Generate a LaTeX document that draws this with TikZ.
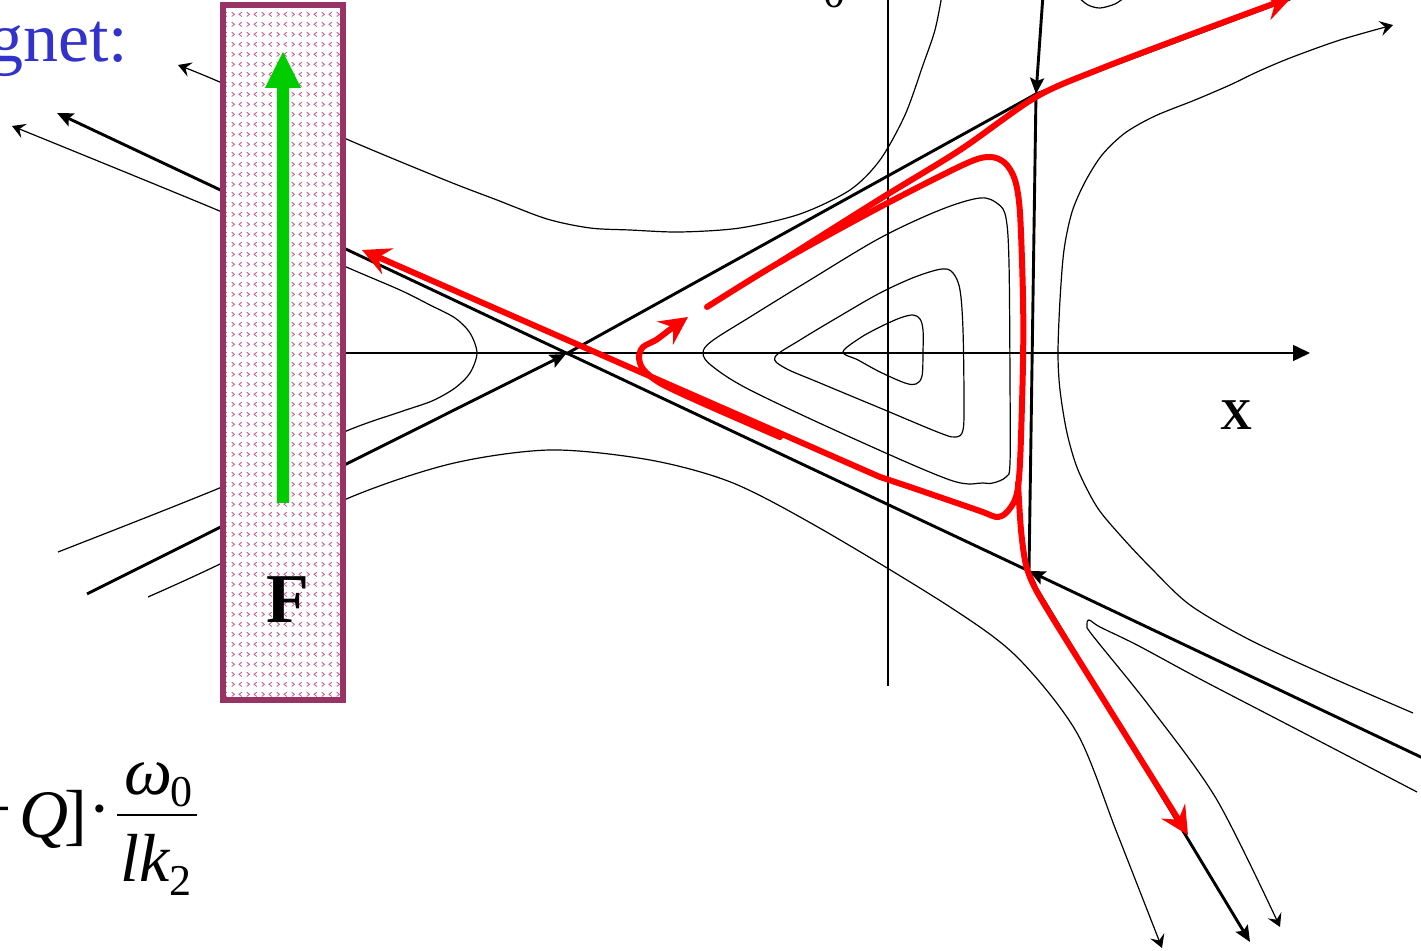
\documentclass[tikz,border=0pt]{standalone}
\usepackage{fontspec}
\setmainfont{Liberation Serif}
\usetikzlibrary{arrows.meta,patterns}
\definecolor{magcol}{RGB}{153,51,102}
\definecolor{patcol}{RGB}{200,95,150}
\definecolor{arrgreen}{RGB}{0,204,0}
\definecolor{txtblue}{RGB}{51,51,204}
\definecolor{redc}{RGB}{255,0,0}
\pgfdeclarepatternformonly{chevrons}{\pgfqpoint{0pt}{0pt}}{\pgfqpoint{7.7pt}{4.85pt}}{\pgfqpoint{7.7pt}{4.85pt}}{%
  \pgfsetlinewidth{0.45pt}%
  \pgfpathmoveto{\pgfqpoint{0.9pt}{3.5pt}}%
  \pgfpathlineto{\pgfqpoint{2.3pt}{2.4pt}}%
  \pgfpathlineto{\pgfqpoint{0.9pt}{1.3pt}}%
  \pgfpathmoveto{\pgfqpoint{6.1pt}{3.5pt}}%
  \pgfpathlineto{\pgfqpoint{4.7pt}{2.4pt}}%
  \pgfpathlineto{\pgfqpoint{6.1pt}{1.3pt}}%
  \pgfusepath{stroke}}
\begin{document}
\begin{tikzpicture}[x=0.5pt,y=-0.5pt,
  fineline/.style={line width=0.6pt},
  sepline/.style={line width=1.45pt},
  axisline/.style={line width=0.75pt},
  redline/.style={draw=redc, line width=3pt, line cap=round, line join=round},
  finetip/.style={-{Stealth[length=6.5pt,width=7.5pt,inset=2.5pt]}},
  septip/.style={-{Stealth[length=8pt,width=7pt,inset=1.5pt]}},
  axistip/.style={-{Triangle[length=8.5pt,width=8pt]}},
  redtip/.style={-{Stealth[length=14pt,width=14pt,inset=5pt]}},
  fml/.style={inner sep=0pt, font=\fontsize{34}{40}\selectfont},
  fmlit/.style={inner sep=0pt, font=\fontsize{34}{40}\selectfont\itshape},
  fsub/.style={inner sep=0pt, font=\fontsize{22}{26}\selectfont},
  orbit/.style={fineline, smooth cycle, tension=0.55},
]
\useasboundingbox (0,0) rectangle (1421,951);
\clip (0,0) rectangle (1421,951);

% key points
\coordinate (Aend) at (87,594);
\coordinate (Sl) at (566,354);
\coordinate (Str) at (1036,94);
\coordinate (Atop) at (1290,-1);
\coordinate (Bl) at (57,113);
\coordinate (Br) at (1425,759);
\coordinate (Sbr) at (1029,571);
\coordinate (Ctop) at (1043,-5);
\coordinate (Cbend) at (1037,589);
\coordinate (Cend) at (1250,942);
\coordinate (Xl) at (344,353);
\coordinate (Xr) at (1310,353);
\coordinate (Yt) at (888,-5);
\coordinate (Yb) at (888,686);

% axes
\draw[axisline, axistip] (Xl) -- (Xr);
\draw[axisline] (Yt) -- (Yb);

% thin phase curves
\draw[fineline, finetip] plot[smooth, tension=0.5] coordinates {(942,-5) (935,30) (923,65) (905,115) (880,160) (850,190) (800,214) (740,228) (680,232) (630,230) (590,228) (547,219) (497,200) (445,180) (344,138) (222,83) (178,65)};
\draw[fineline, finetip] plot[smooth, tension=0.5] coordinates {(58,552) (222,487) (344,432) (400,412) (432,401) (455,388) (470,373) (477,353) (470,333) (455,318) (430,305) (400,290) (344,266) (222,212) (12,126)};
\draw[fineline, finetip] plot[smooth, tension=0.5] coordinates {(148,597) (222,563) (344,500) (450,464) (550,450) (650,460) (733,483) (823,530) (950,607) (1017,657) (1077,733) (1117,833) (1162,948)};
\draw[fineline, finetip] plot[smooth, tension=0.5] coordinates {(1413,713) (1330,677) (1250,640) (1190,605) (1150,567) (1120,535) (1097,507) (1078,470) (1067,433) (1060,390) (1058,353) (1060,300) (1064,250) (1072,212) (1085,182) (1102,155) (1125,133) (1155,116) (1195,100) (1230,85) (1257,72) (1290,58) (1340,40) (1393,25)};
\draw[fineline, finetip] plot[smooth, tension=0.5] coordinates {(1417,792) (1300,731) (1200,679) (1137,645) (1100,627) (1089,620) (1087,626) (1093,636) (1150,707) (1217,800) (1280,927)};
\draw[fineline] plot[smooth, tension=0.5] coordinates {(1078,-3) (1088,5) (1100,8) (1115,4) (1125,-3)};

% closed orbits
\draw[orbit] plot coordinates {(843,352) (860,338) (880,327) (900,318) (913,315) (920,319) (923,330) (923,352) (922,376) (916,384) (905,383) (880,372) (858,360)};
\draw[orbit] plot coordinates {(775,357) (800,340) (840,316) (880,293) (915,277) (942,269) (953,273) (960,290) (963,330) (964,400) (963,430) (956,437) (940,433) (880,408) (820,383) (785,368)};
\draw[orbit] plot coordinates {(703,353) (712,341) (750,317) (810,280) (880,238) (940,210) (980,198) (998,204) (1006,218) (1009,263) (1010,380) (1010,463) (1006,477) (993,483) (983,483) (950,480) (850,437) (750,390) (712,366)};

% separatrices
\draw[sepline, septip] (Aend) -- (Sl);
\draw[sepline, line join=round] (Sl) -- (Str) -- (Atop);
\draw[sepline, septip] (Br) -- (Sbr);
\draw[sepline, septip] (Sbr) -- (Bl);
\draw[sepline, septip] (Ctop) -- (Str);
\draw[sepline] (Str) -- (Sbr);
\draw[sepline, septip, line join=round] (Sbr) -- (Cbend) -- (Cend);

% magnet
\node[draw=magcol, line width=2.6pt, minimum width=60pt, minimum height=347.5pt, inner sep=0pt,
      preaction={fill=white}, pattern=chevrons, pattern color=patcol] (magnet) at (283,352.5) {};
\fill[arrgreen] (277,503) -- (277,88) -- (265,88) -- (283,52) -- (301,88) -- (289,88) -- (289,503) -- cycle;
\node[inner sep=0pt, font=\fontsize{35}{40}\selectfont\bfseries, anchor=base] (flabel) at (288,623) {F};

% red trajectories
\draw[redline, redtip] plot[smooth, tension=0.5] coordinates {(707,307) (780,262) (880,207) (965,164) (990,157) (1005,163) (1015,180) (1020,213) (1023,297) (1023,363) (1020,463) (1016,497) (1006,513) (996,517) (980,511) (913,488) (880,477)} -- (362,250);
\draw[redline, redtip] plot[smooth, tension=0.5] coordinates {(780,262) (880,199) (960,150) (1036,97) (1100,69) (1200,31) (1292,-3)};
\draw[redline, redtip] plot[smooth, tension=0.5] coordinates {(1018,483) (1021,530) (1026,565) (1036,590) (1060,630)} -- (1188,835);
\draw[redline, redtip] plot[smooth, tension=0.5] coordinates {(780,437) (700,402) (660,383) (643,369) (639,357) (643,347) (656,340) (668,331)} -- (688,317);

% texts
\node[inner sep=0pt, font=\fontsize{35}{40}\selectfont, text=txtblue, anchor=base west] (magtxt) at (-12,62) {gnet:};
\node[inner sep=0pt, font=\fontsize{22}{26}\selectfont\bfseries, anchor=base] (xlabel) at (1236,430) {X};
\node[inner sep=0pt, font=\fontsize{22}{26}\selectfont, anchor=base] (topzero) at (834,8) {0};

% formula
\node[fml, anchor=base east] (fminus) at (12,832) {−};
\node[fmlit, anchor=base west] (fq) at (19,838) {Q};
\node[fml, anchor=base west] (fbr) at (64,838) {]};
\node[fml, anchor=base] (fdot) at (100,832) {·};
\coordinate (fbarl) at (117,815);
\coordinate (fbarr) at (197,815);
\draw[line width=1pt] (fbarl) -- (fbarr);
\node[fmlit, anchor=base west] (fomega) at (124,795) {ω};
\node[fsub, anchor=base west] (fzero) at (170,807) {0};
\node[fmlit, anchor=base west] (flk) at (120,882) {lk};
\node[fsub, anchor=base west] (ftwo) at (169,896) {2};
\end{tikzpicture}
\end{document}
